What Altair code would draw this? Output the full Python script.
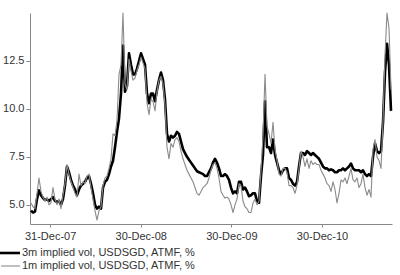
import altair as alt
import pandas as pd

black = [
    4.7, 4.6, 4.65, 5.3, 5.75, 5.5, 5.35, 5.25, 5.3, 5.2,
    5.3, 5.4, 5.2, 5.15, 5.2, 5.0, 5.3, 6.0, 7.0, 6.7,
    6.3, 6.0, 5.8, 5.5, 5.8, 6.0, 6.1, 6.2, 6.4, 6.5,
    6.1, 5.6, 5.0, 4.8, 4.9, 4.8, 5.9, 6.2, 6.3, 6.6,
    7.0, 7.3, 8.0, 8.8, 9.5, 10.8, 13.3, 10.9, 11.2, 12.9,
    12.3, 11.8, 11.8, 12.1, 12.5, 12.9, 12.6, 12.3, 10.8, 10.3,
    10.8, 10.8, 10.4, 11.0, 11.5, 11.9, 11.5, 10.5, 8.7, 8.3,
    8.6, 8.5, 8.6, 8.8, 8.7, 8.3, 7.9, 7.7, 7.5, 7.35,
    7.2, 7.05, 6.9, 6.75, 6.7, 6.65, 6.6, 6.5, 6.5, 6.7,
    6.9, 7.2, 7.4, 7.2, 6.9, 6.5, 6.5, 6.6, 6.5, 6.3,
    5.9, 5.6, 5.7, 5.6, 6.2, 6.2, 5.8, 5.9, 5.7, 5.45,
    5.5, 5.6, 5.6, 5.2, 5.1, 6.5, 7.6, 10.4, 8.0, 8.0,
    7.7, 8.4, 7.6, 7.2, 6.8, 6.6, 6.8, 6.9, 6.9, 6.4,
    6.3, 6.1, 6.0, 6.2, 7.0, 7.7, 7.7, 7.6, 7.8, 7.7,
    7.6, 7.7, 7.6, 7.5, 7.4, 7.2, 7.0, 6.9, 6.9, 6.8,
    6.85, 6.8, 6.7, 6.7, 6.8, 6.8, 6.9, 6.8, 6.9, 7.0,
    7.15, 6.9, 6.8, 6.8, 6.8, 6.7, 6.8, 6.6, 6.5, 6.6,
    6.5, 7.5, 8.2, 7.8, 7.7, 7.8, 9.3, 11.9, 13.4, 12.3,
    9.9,
]

# 1m implied vol (grey)
gray = [
    5.1, 4.9, 4.8, 5.6, 6.4, 5.7, 5.4, 5.2, 5.4, 5.0,
    5.1, 5.9, 5.3, 5.0, 5.3, 4.8, 5.5, 6.1, 7.1, 6.6,
    6.2, 5.9, 5.6, 5.4, 6.6, 6.0, 6.2, 6.1, 6.5, 6.6,
    5.9, 5.3, 4.7, 4.2, 4.7, 4.9, 6.0, 6.4, 6.5, 6.9,
    7.4, 8.7, 8.6, 9.4, 11.8, 12.3, 15.0, 11.3, 11.0, 12.6,
    12.0, 11.5, 11.6, 12.0, 12.3, 12.7, 12.4, 12.1, 10.3, 9.7,
    10.5, 10.4, 9.9, 10.9, 11.5, 11.7, 11.3, 10.2, 8.0, 7.4,
    8.2, 8.0, 8.4, 8.5, 8.3, 7.8, 7.4, 7.1, 6.8, 6.6,
    6.4, 6.2, 5.9, 5.6, 5.5, 5.7, 5.9, 6.0, 6.1, 6.4,
    6.8, 7.1, 7.2, 6.9, 6.4, 5.7, 5.5, 5.35, 5.4, 5.3,
    5.0, 4.6, 5.0, 5.3, 6.1, 6.0, 5.2, 4.9, 4.8, 4.6,
    4.6, 5.1, 5.3, 5.0, 5.2, 6.8, 8.6, 11.8, 9.1, 8.7,
    8.2, 9.3, 7.9, 7.3, 6.6, 6.5, 6.9, 6.9, 6.7, 6.0,
    6.0, 5.9, 5.6, 6.0, 6.9, 7.8, 7.5, 7.0, 7.4, 6.9,
    7.3, 7.1, 7.2, 7.1, 7.1, 6.8, 6.6, 6.4, 6.1, 6.0,
    5.7, 6.2, 5.8, 5.1, 5.6, 6.3, 6.2, 6.4, 6.1, 6.5,
    6.9, 6.3, 6.2, 6.4, 5.9, 6.1, 6.6, 5.9, 5.5, 5.8,
    5.4, 7.9, 8.4, 7.5, 7.3, 6.9, 9.4, 12.8, 15.0, 14.2,
    11.0,
]

series_names = ["3m implied vol, USDSGD, ATMF, %", "1m implied vol, USDSGD, ATMF, %"]
series_colors = ["#000000", "#8a8a8a"]
series_widths = [2.6, 1.1]
y_ticks = [5.0, 7.5, 10.0, 12.5]

dates = pd.date_range("2007-10-15", "2011-10-04", periods=len(black))

df = pd.concat([
    pd.DataFrame({"date": dates, "value": black, "series": series_names[0]}),
    pd.DataFrame({"date": dates, "value": gray, "series": series_names[1]}),
])
legend_df = pd.DataFrame({"series": series_names})

FONT = "Liberation Sans"
TEXT_COLOR = "#333333"

base = alt.Chart(df).mark_line(strokeJoin="round").encode(
    x=alt.X(
        "date:T",
        scale=alt.Scale(domain=[alt.DateTime(year=2007, month=10, date=11),
                                alt.DateTime(year=2011, month=10, date=8)]),
        axis=alt.Axis(
            title=None,
            values=[alt.DateTime(year=2007, month=12, date=31),
                    alt.DateTime(year=2008, month=12, date=30),
                    alt.DateTime(year=2009, month=12, date=30),
                    alt.DateTime(year=2010, month=12, date=30)],
            format="%d-%b-%y",
            grid=False,
            tickSize=3,
            labelPadding=3,
            domainColor="#888888",
            tickColor="#888888",
        ),
    ),
    y=alt.Y(
        "value:Q",
        scale=alt.Scale(domain=[4, 15], nice=False, zero=False),
        axis=alt.Axis(
            title=None,
            values=y_ticks,
            format=".1f",
            grid=False,
            tickSize=4,
            labelPadding=2,
            domainColor="#888888",
            tickColor="#888888",
        ),
    ),
    color=alt.Color(
        "series:N",
        scale=alt.Scale(domain=series_names, range=series_colors),
        legend=None,
    ),
    strokeWidth=alt.StrokeWidth(
        "series:N",
        scale=alt.Scale(domain=series_names, range=series_widths),
        legend=None,
    ),
)

# manual legend below the plot (rows 13 px apart)
legend_layers = []
for i, name in enumerate(series_names):
    row_y = 240 + 13 * i
    one = alt.Chart(legend_df).transform_filter(alt.datum.series == name)
    legend_layers.append(
        one.mark_rule(color=series_colors[i], strokeWidth=series_widths[i]).encode(
            x=alt.value(-30 + i), x2=alt.value(-10), y=alt.value(row_y)
        )
    )
    legend_layers.append(
        one.mark_text(align="left", baseline="middle", font=FONT, fontSize=11,
                      color=TEXT_COLOR).encode(
            x=alt.value(-8), y=alt.value(row_y), text="series:N"
        )
    )

chart = alt.layer(
    base.transform_filter(alt.datum.series == series_names[0]),
    base.transform_filter(alt.datum.series == series_names[1]),
    *legend_layers,
).properties(
    width=362,
    height=211,
    autosize=alt.AutoSizeParams(type="none"),
    padding={"left": 30, "top": 13, "right": 8, "bottom": 51},
).configure_view(
    stroke=None
).configure_axis(
    labelFont=FONT,
    labelFontSize=11,
    labelColor=TEXT_COLOR,
)

chart.save("out.html", embed_options={"renderer": "svg", "actions": False})
